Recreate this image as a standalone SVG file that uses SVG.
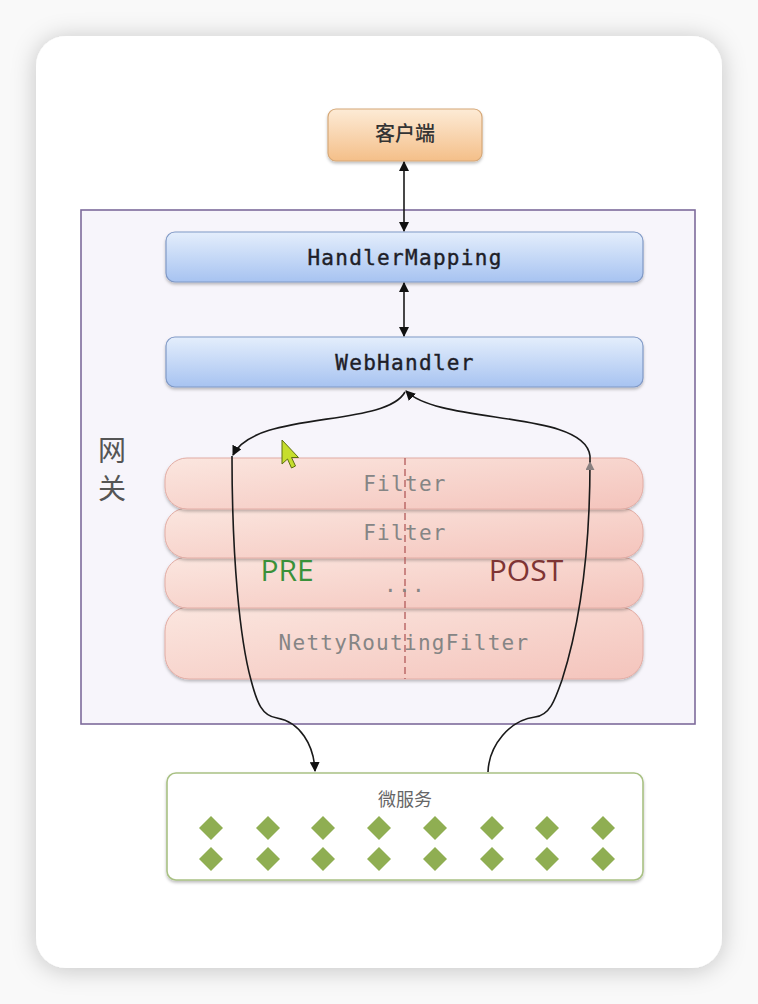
<svg xmlns="http://www.w3.org/2000/svg" width="758" height="1004" viewBox="0 0 758 1004">
<defs>
<style>
.mono{font-family:"DejaVu Sans Mono","Liberation Mono",monospace;font-size:21px;letter-spacing:1.3px;text-anchor:middle}
.cjk{font-family:"Noto Sans CJK SC","Noto Sans",sans-serif;text-anchor:middle}
.big{font-family:"Open Sans","Liberation Sans",sans-serif;font-size:30px;text-anchor:middle}
.conn{fill:none;stroke:#1a1a1a;stroke-width:1.6}
.dia{fill:#8fae52}
</style>
<filter id="cardShadow" x="-10%" y="-10%" width="120%" height="120%">
<feDropShadow dx="0" dy="2" stdDeviation="12" flood-color="#000" flood-opacity="0.22"/>
</filter>
<filter id="sh" x="-5%" y="-20%" width="110%" height="150%">
<feDropShadow dx="0" dy="2" stdDeviation="1.5" flood-color="#000" flood-opacity="0.25"/>
</filter>
<linearGradient id="gOrange" x1="0" y1="0" x2="0" y2="1">
<stop offset="0" stop-color="#fdebd6"/><stop offset="1" stop-color="#f4bf89"/>
</linearGradient>
<linearGradient id="gBlue" x1="0" y1="0" x2="0" y2="1">
<stop offset="0" stop-color="#e4eefc"/><stop offset="1" stop-color="#a7c3f1"/>
</linearGradient>
<linearGradient id="gPink" x1="0" y1="0" x2="1" y2="1">
<stop offset="0" stop-color="#fbe6df"/><stop offset="1" stop-color="#f4c4bc"/>
</linearGradient>
<marker id="ah" viewBox="0 0 10 10" refX="9" refY="5" markerWidth="10" markerHeight="10" markerUnits="userSpaceOnUse" orient="auto-start-reverse">
<path d="M0 0 L10 5 L0 10 Z" fill="#111"/>
</marker>
<marker id="ahg" viewBox="0 0 10 10" refX="9" refY="5" markerWidth="9" markerHeight="9" markerUnits="userSpaceOnUse" orient="auto">
<path d="M0 0 L10 5 L0 10 Z" fill="#8a8080"/>
</marker>
</defs>
<rect x="0" y="0" width="758" height="1004" fill="#f9f9f9"/>
<rect x="36" y="36" width="686" height="932" rx="30" fill="#ffffff" filter="url(#cardShadow)"/>

<g id="gateway">
<rect x="81" y="210" width="614" height="514" fill="#f7f5fb" stroke="#7d6b9c" stroke-width="1.6"/>
<text class="cjk" x="112" y="461" font-size="28" fill="#555">网</text>
<text class="cjk" x="112" y="499" font-size="28" fill="#555">关</text>
</g>

<g id="client">
<rect x="328" y="109" width="154" height="52" rx="8" fill="url(#gOrange)" stroke="#d6a878" stroke-width="1.2" filter="url(#sh)"/>
<text class="cjk" x="405" y="141" font-size="20" font-weight="500" fill="#333">客户端</text>
</g>

<g id="handlerMapping">
<rect x="166" y="232" width="477" height="50" rx="9" fill="url(#gBlue)" stroke="#8099c6" stroke-width="1.2" filter="url(#sh)"/>
<text class="mono" x="405" y="265" fill="#1e1e28" stroke="#1e1e28" stroke-width="0.4">HandlerMapping</text>
</g>

<g id="webHandler">
<rect x="166" y="337" width="477" height="50" rx="9" fill="url(#gBlue)" stroke="#8099c6" stroke-width="1.2" filter="url(#sh)"/>
<text class="mono" x="405" y="370" fill="#1e1e28" stroke="#1e1e28" stroke-width="0.4">WebHandler</text>
</g>

<g id="filters">
<rect x="165" y="607" width="478" height="72" rx="24" fill="url(#gPink)" stroke="#e2aca4" stroke-width="1" filter="url(#sh)"/>
<rect x="165" y="557" width="478" height="51" rx="22" fill="url(#gPink)" stroke="#e2aca4" stroke-width="1" filter="url(#sh)"/>
<rect x="165" y="508" width="478" height="50" rx="22" fill="url(#gPink)" stroke="#e2aca4" stroke-width="1" filter="url(#sh)"/>
<rect x="165" y="458" width="478" height="51" rx="22" fill="url(#gPink)" stroke="#e2aca4" stroke-width="1" filter="url(#sh)"/>
<line x1="405" y1="458" x2="405" y2="679" stroke="#b25a5a" stroke-width="1.3" stroke-dasharray="7,4"/>
<text class="mono" x="405" y="491" fill="#858585">Filter</text>
<text class="mono" x="405" y="540" fill="#858585">Filter</text>
<text class="mono" x="405" y="592" fill="#858585">...</text>
<text class="mono" x="404" y="650" fill="#858585">NettyRoutingFilter</text>
<text class="big" x="287" y="581" fill="#3a913a">PRE</text>
<text class="big" x="526" y="581" fill="#7e3434">POST</text>
</g>

<g id="microservices">
<rect x="167" y="773" width="476" height="107" rx="9" fill="#ffffff" stroke="#a9c184" stroke-width="1.6" filter="url(#sh)"/>
<text class="cjk" x="405" y="806" font-size="18" fill="#666">微服务</text>
<g>
<path class="dia" d="M211 816 l12 12 l-12 12 l-12 -12 Z"/>
<path class="dia" d="M268 816 l12 12 l-12 12 l-12 -12 Z"/>
<path class="dia" d="M323 816 l12 12 l-12 12 l-12 -12 Z"/>
<path class="dia" d="M379 816 l12 12 l-12 12 l-12 -12 Z"/>
<path class="dia" d="M435 816 l12 12 l-12 12 l-12 -12 Z"/>
<path class="dia" d="M492 816 l12 12 l-12 12 l-12 -12 Z"/>
<path class="dia" d="M547 816 l12 12 l-12 12 l-12 -12 Z"/>
<path class="dia" d="M603 816 l12 12 l-12 12 l-12 -12 Z"/>
<path class="dia" d="M211 847 l12 12 l-12 12 l-12 -12 Z"/>
<path class="dia" d="M268 847 l12 12 l-12 12 l-12 -12 Z"/>
<path class="dia" d="M323 847 l12 12 l-12 12 l-12 -12 Z"/>
<path class="dia" d="M379 847 l12 12 l-12 12 l-12 -12 Z"/>
<path class="dia" d="M435 847 l12 12 l-12 12 l-12 -12 Z"/>
<path class="dia" d="M492 847 l12 12 l-12 12 l-12 -12 Z"/>
<path class="dia" d="M547 847 l12 12 l-12 12 l-12 -12 Z"/>
<path class="dia" d="M603 847 l12 12 l-12 12 l-12 -12 Z"/>
</g>
</g>

<g id="connectors">
<line class="conn" x1="404" y1="162" x2="404" y2="231" marker-start="url(#ah)" marker-end="url(#ah)"/>
<line class="conn" x1="404" y1="283" x2="404" y2="336" marker-start="url(#ah)" marker-end="url(#ah)"/>
<path class="conn" d="M405 392 C 385 428, 255 410, 233 455" marker-end="url(#ah)"/>
<path class="conn" d="M232 456 C 232 560, 240 640, 251 680 C 257 703, 262 716, 277 718 C 300 722, 314 745, 315 771" marker-end="url(#ah)"/>
<path class="conn" d="M488 772 C 489 745, 510 720, 535 717 C 550 715, 555 700, 562 680 C 578 630, 590 560, 590 462" marker-end="url(#ahg)"/>
<path class="conn" d="M590 462 L590 456 C 585 410, 440 425, 406 391" marker-end="url(#ah)"/>
</g>

<g id="cursor">
<path d="M282 440 L282 464 L287.5 459 L291.5 468 L295.5 466 L291.5 457.5 L298.5 457.5 Z" fill="#c6de2c" stroke="#5d6e10" stroke-width="1"/>
</g>
</svg>
